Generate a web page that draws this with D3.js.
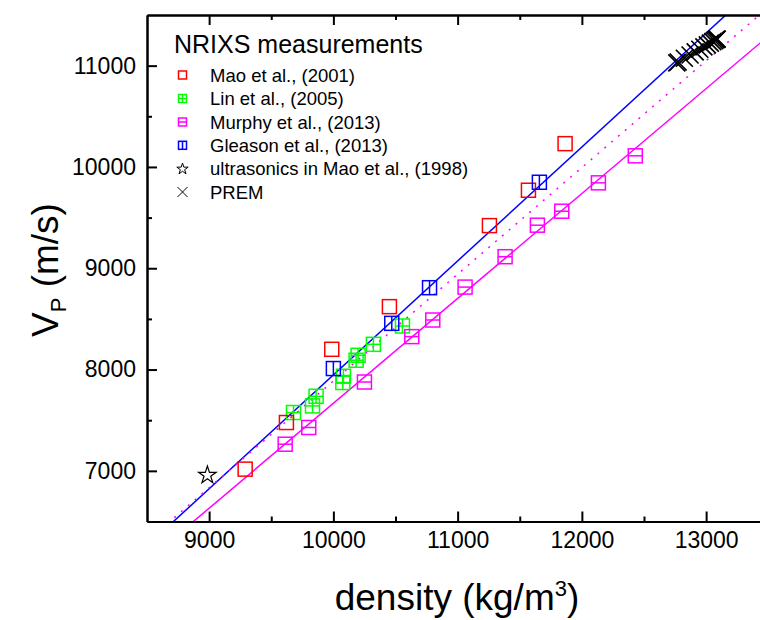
<!DOCTYPE html>
<html>
<head>
<meta charset="utf-8">
<script src="https://cdn.jsdelivr.net/npm/d3@7"></script>
<style>
  body { margin: 0; background: white; }
  svg text { font-family: "Liberation Sans", Arial, sans-serif; }
</style>
</head>
<body>
<script>
// density (kg/m3) and Vp (m/s)
var maoDensity = [9290, 9622, 9987, 10451, 11256, 11570, 11865]
var maoVp = [7017, 7477, 8200, 8621, 9421, 9770, 10230]

var linDensity = [9679, 9832, 9861, 10076, 10081, 10183, 10199, 10322, 10556]
var linVp = [7576, 7641, 7736, 7872, 7934, 8092, 8141, 8249, 8430]

var murphyDensity = [9612, 9802, 10250, 10631, 10800, 11060, 11382, 11642, 11838, 12133, 12430]
var murphyVp = [7263, 7428, 7877, 8325, 8489, 8814, 9114, 9425, 9563, 9843, 10110]

var gleasonDensity = [10000, 10470, 10774, 11658]
var gleasonVp = [8010, 8456, 8808, 9849]

var ultraDensity = [8986]
var ultraVp = [6967]

// PREM inner core
var premDensity = [12764, 12775, 12825, 12871, 12912, 12949, 12982, 13010, 13034, 13054, 13069, 13080, 13086, 13089]
var premVp = [11028, 11036, 11073, 11105, 11135, 11162, 11185, 11206, 11223, 11237, 11248, 11256, 11261, 11262]

// linear fits: Vp = slope * density + intercept
var fitNames = ["blue", "murphy", "murphyDotted"]
var fitSlopes = [1.1247, 1.0356, 1.0536]
var fitIntercepts = [-3299.5, -2689.4, -2648.8]

var xMajor = [9000, 10000, 11000, 12000, 13000]
var xMinor = [9500, 10500, 11500, 12500]
var yMajor = [7000, 8000, 9000, 10000, 11000]
var yMinor = [7500, 8500, 9500, 10500]

var legendLabels = ["Mao et al., (2001)", "Lin et al., (2005)", "Murphy et al., (2013)",
  "Gleason et al., (2013)", "ultrasonics in Mao et al., (1998)", "PREM"]

var W = 760, H = 620
var plotLeft = 147, plotRight = 768.25, plotTop = 15, plotBottom = 521.5

var x = d3.scaleLinear().domain([8500, 13500]).range([plotLeft, plotRight])
var y = d3.scaleLinear().domain([6500, 11500]).range([plotBottom, plotTop])

var svg = d3.select("body").append("svg").attr("width", W).attr("height", H)

svg.append("defs").append("clipPath").attr("id", "plotclip")
  .append("rect").attr("x", plotLeft).attr("y", plotTop)
  .attr("width", plotRight - plotLeft).attr("height", plotBottom - plotTop)

var plot = svg.append("g").attr("clip-path", "url(#plotclip)")

// fit lines
var fitStyles = {
  blue: { color: "#0000ff", dash: null },
  murphy: { color: "#ff00ff", dash: null },
  murphyDotted: { color: "#ff00ff", dash: "2,7" }
}
fitNames.forEach(function(name, i) {
  var d0 = 8500, d1 = 13500
  var st = fitStyles[name]
  plot.append("line")
    .attr("x1", x(d0)).attr("y1", y(fitSlopes[i] * d0 + fitIntercepts[i]))
    .attr("x2", x(d1)).attr("y2", y(fitSlopes[i] * d1 + fitIntercepts[i]))
    .attr("stroke", st.color).attr("stroke-width", 1.5)
    .attr("stroke-dasharray", st.dash)
})

function zip(a, b) {
  return a.map(function(v, i) { return [v, b[i]] })
}

// square markers, with optional inner lines
function drawSquares(g, pts, color, hLine, vLine, s) {
  pts.forEach(function(p) {
    drawSquare(g, x(p[0]), y(p[1]), color, hLine, vLine, s)
  })
}
function drawSquare(g, cx, cy, color, hLine, vLine, s) {
  var h = s / 2
  g.append("rect").attr("x", cx - h).attr("y", cy - h).attr("width", s).attr("height", s)
    .attr("fill", "none").attr("stroke", color).attr("stroke-width", 1.5)
  if (hLine) g.append("line").attr("x1", cx - h).attr("x2", cx + h).attr("y1", cy).attr("y2", cy)
    .attr("stroke", color).attr("stroke-width", 1.5)
  if (vLine) g.append("line").attr("x1", cx).attr("x2", cx).attr("y1", cy - h).attr("y2", cy + h)
    .attr("stroke", color).attr("stroke-width", 1.5)
}
function drawCross(g, cx, cy, r, sw) {
  g.append("path")
    .attr("d", "M" + (cx - r) + "," + (cy - r) + "L" + (cx + r) + "," + (cy + r) +
      "M" + (cx - r) + "," + (cy + r) + "L" + (cx + r) + "," + (cy - r))
    .attr("stroke", "black").attr("stroke-width", sw).attr("fill", "none")
}

var marks = svg.append("g")
drawSquares(marks, zip(linDensity, linVp), "#00ff00", true, true, 14)
drawSquares(marks, zip(murphyDensity, murphyVp), "#ff00ff", true, false, 14)
drawSquares(marks, zip(maoDensity, maoVp), "#ff0000", false, false, 14)
drawSquares(marks, zip(gleasonDensity, gleasonVp), "#0000ff", false, true, 14)

var star = d3.symbol().type(d3.symbolStar)
zip(ultraDensity, ultraVp).forEach(function(p) {
  marks.append("path").attr("d", star.size(95)())
    .attr("transform", "translate(" + x(p[0]) + "," + (y(p[1]) + 1) + ")")
    .attr("fill", "none").attr("stroke", "black").attr("stroke-width", 1.2)
})

var premG = plot.append("g")
zip(premDensity, premVp).forEach(function(p) {
  drawCross(premG, x(p[0]), y(p[1]), 8.5, 1.7)
})

// axes
function styleAxis(g) {
  g.selectAll(".domain").attr("stroke", "black").attr("stroke-width", 2)
  g.selectAll(".tick line").attr("stroke", "black").attr("stroke-width", 2)
  g.selectAll("text").attr("font-size", "23px").attr("fill", "black")
    .style("font-family", "'Liberation Sans', Arial, sans-serif")
}
svg.append("g").attr("transform", "translate(0," + plotBottom + ")")
  .call(d3.axisBottom(x).tickValues(xMajor).tickSize(-10).tickSizeOuter(0).tickPadding(10).tickFormat(d3.format("d")))
  .call(styleAxis)
svg.append("g").attr("transform", "translate(0," + plotBottom + ")")
  .call(d3.axisBottom(x).tickValues(xMinor).tickSize(-5).tickSizeOuter(0).tickFormat(""))
  .call(styleAxis)
svg.append("g").attr("transform", "translate(0," + plotTop + ")")
  .call(d3.axisTop(x).tickValues(xMajor).tickSize(-10).tickSizeOuter(0).tickFormat(""))
  .call(styleAxis)
svg.append("g").attr("transform", "translate(0," + plotTop + ")")
  .call(d3.axisTop(x).tickValues(xMinor).tickSize(-5).tickSizeOuter(0).tickFormat(""))
  .call(styleAxis)
svg.append("g").attr("transform", "translate(" + plotLeft + ",0)")
  .call(d3.axisLeft(y).tickValues(yMajor).tickSize(-10).tickSizeOuter(0).tickPadding(11).tickFormat(d3.format("d")))
  .call(styleAxis)
svg.append("g").attr("transform", "translate(" + plotLeft + ",0)")
  .call(d3.axisLeft(y).tickValues(yMinor).tickSize(-5).tickSizeOuter(0).tickFormat(""))
  .call(styleAxis)

// axis titles
var xt = svg.append("text").attr("x", 457).attr("y", 610).attr("text-anchor", "middle")
  .attr("font-size", "37px").attr("fill", "black")
xt.append("tspan").text("density (kg/m")
xt.append("tspan").attr("font-size", "22px").attr("dy", -14).text("3")
xt.append("tspan").attr("dy", 14).text(")")

var yt = svg.append("text").attr("transform", "translate(58,270) rotate(-90)")
  .attr("text-anchor", "middle").attr("font-size", "37px").attr("fill", "black")
yt.append("tspan").text("V")
yt.append("tspan").attr("font-size", "22px").attr("dy", 8).text("P")
yt.append("tspan").attr("dy", -8).text(" (m/s)")

// legend
var lg = svg.append("g")
lg.append("text").attr("x", 174).attr("y", 53).attr("font-size", "25px").text("NRIXS measurements")
var rowY = [75, 98.5, 122, 145.3, 168.5, 192]
legendLabels.forEach(function(label, i) {
  lg.append("text").attr("x", 210).attr("y", rowY[i] + 6.6).attr("font-size", "18.5px").text(label)
})
drawSquare(lg, 182.5, rowY[0], "#ff0000", false, false, 8)
drawSquare(lg, 182.5, rowY[1], "#00ff00", true, true, 8)
drawSquare(lg, 182.5, rowY[2], "#ff00ff", true, false, 8)
drawSquare(lg, 182.5, rowY[3], "#0000ff", false, true, 8)
lg.append("path").attr("d", star.size(40)()).attr("transform", "translate(182.5," + (rowY[4] + 0.5) + ")")
  .attr("fill", "none").attr("stroke", "black").attr("stroke-width", 1)
drawCross(lg, 182.5, rowY[5], 5, 1)
</script>
</body>
</html>
